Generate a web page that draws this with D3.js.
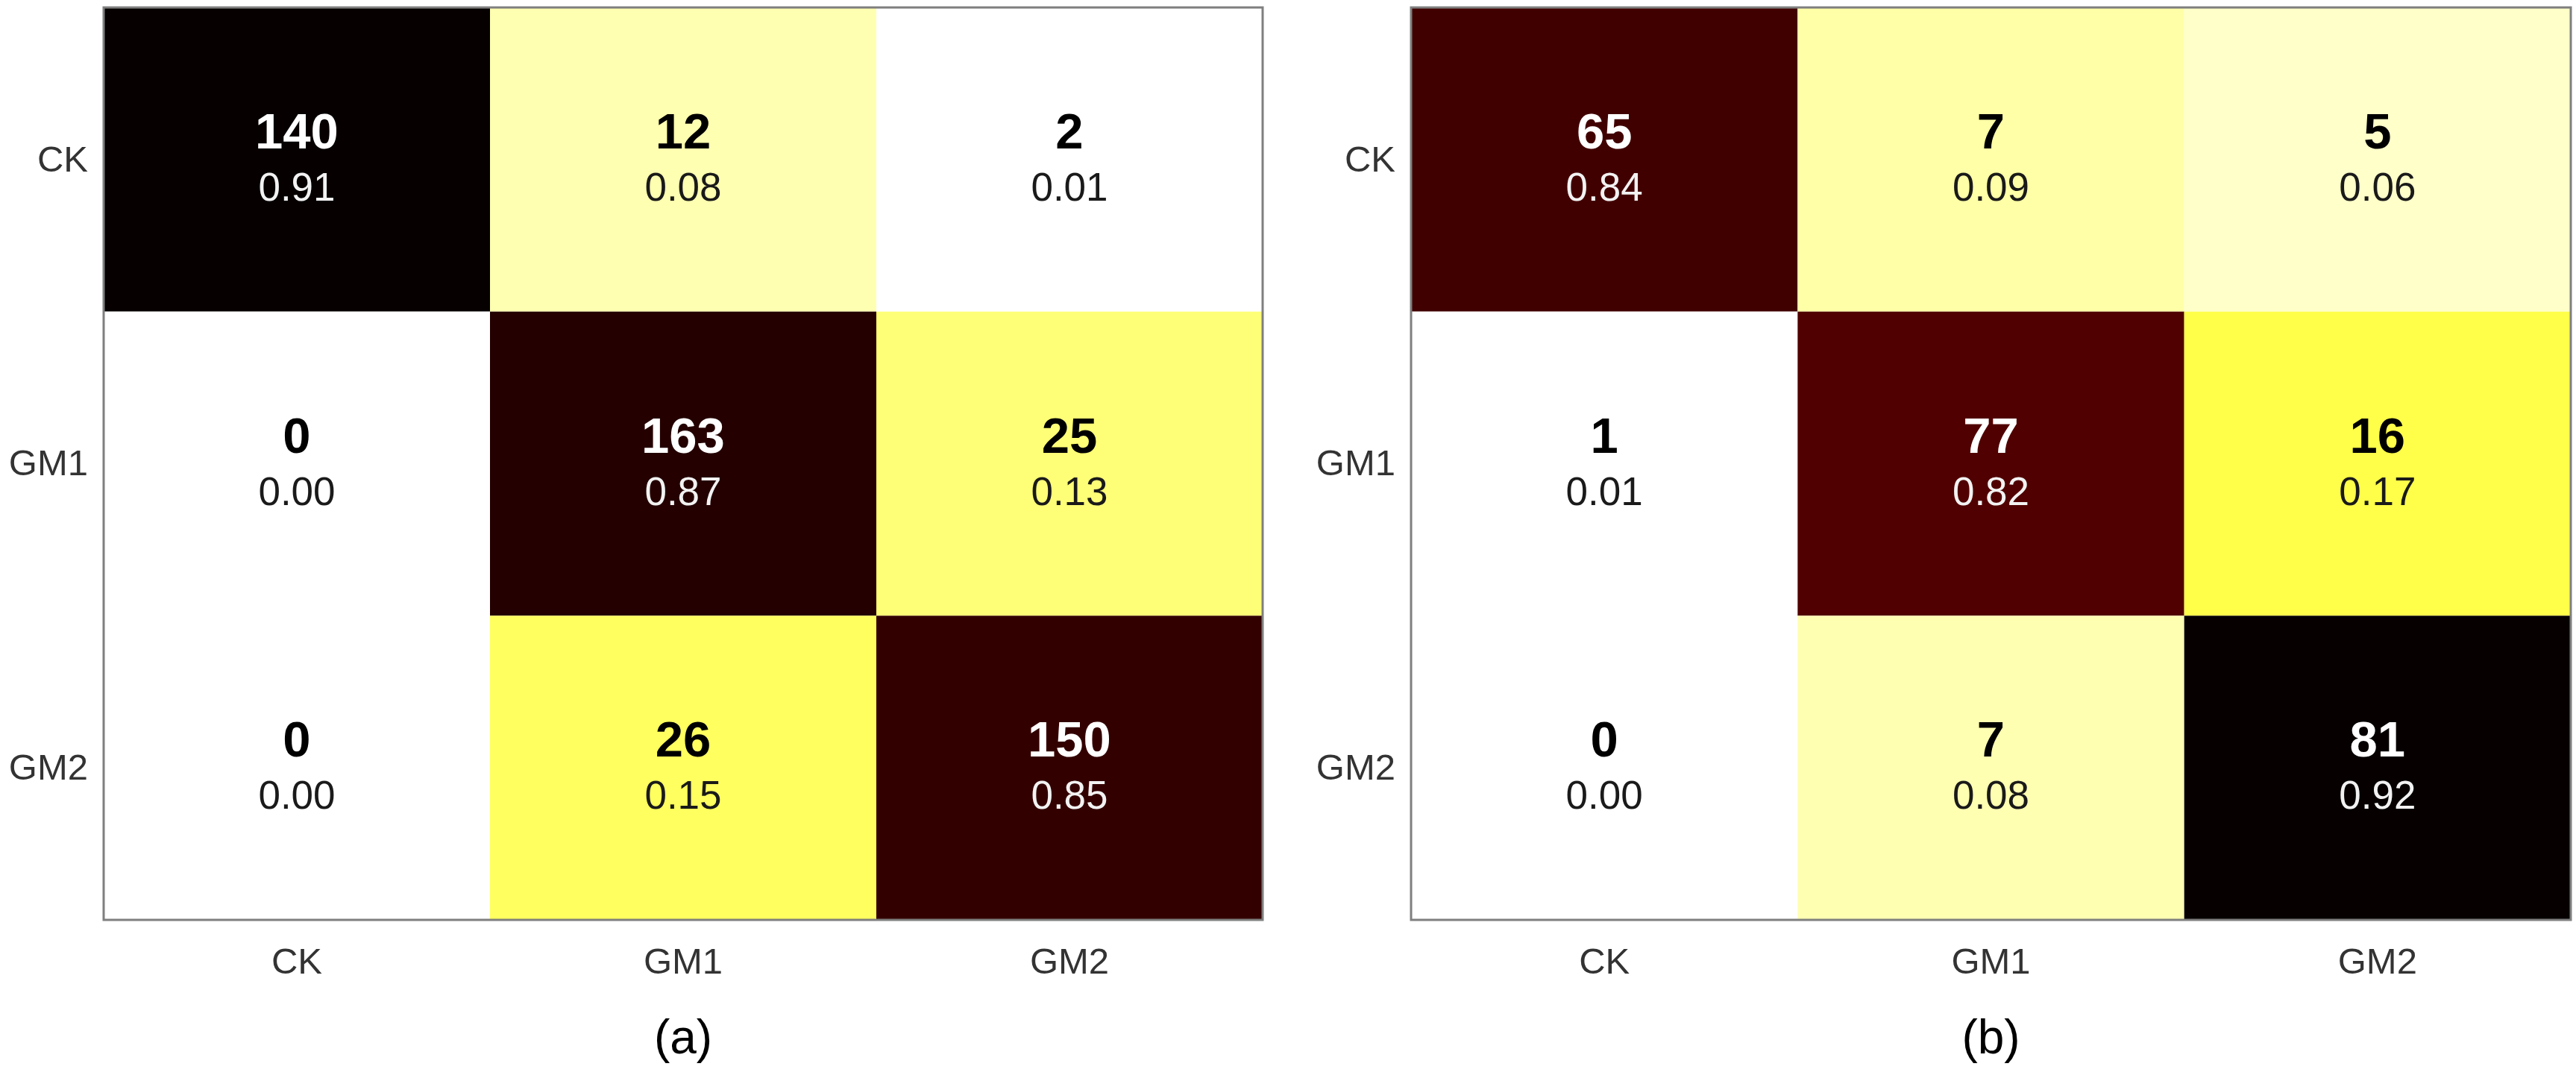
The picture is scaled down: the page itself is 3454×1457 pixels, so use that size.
<!DOCTYPE html>
<html>
<head>
<meta charset="utf-8">
<script src="https://cdn.jsdelivr.net/npm/d3@7"></script>
<style>
  body { margin: 0; background: #fff; }
  svg text { font-family: "Liberation Sans", Arial, sans-serif; }
</style>
</head>
<body>
<div id="chart"></div>
<script>
// class labels (rows = true, cols = predicted)
var classes = ["CK", "GM1", "GM2"];

// panel (a)
var countsA = [[140, 12, 2], [0, 163, 25], [0, 26, 150]];
var ratiosA = [[0.91, 0.08, 0.01], [0.00, 0.87, 0.13], [0.00, 0.15, 0.85]];

// panel (b)
var countsB = [[65, 7, 5], [1, 77, 16], [0, 7, 81]];
var ratiosB = [[0.84, 0.09, 0.06], [0.01, 0.82, 0.17], [0.00, 0.08, 0.92]];

var captions = ["(a)", "(b)"];

var svgWidth = 3454, svgHeight = 1457;

var svg = d3.select("#chart")
    .append("svg")
    .attr("width", svgWidth)
    .attr("height", svgHeight);

var panels = [
    {counts: countsA, ratios: ratiosA, caption: captions[0], x0: 139, x1: 1693},
    {counts: countsB, ratios: ratiosB, caption: captions[1], x0: 1892, x1: 3447}
];
var plotTop = 10, plotBottom = 1233;

panels.forEach(function(p) {
    var xScale = d3.scaleBand().domain(classes).range([p.x0, p.x1]);
    var yScale = d3.scaleBand().domain(classes).range([plotTop, plotBottom]);

    // reversed "hot" colour map, normalised to the panel max
    var maxR = d3.max(p.ratios, function(r) { return d3.max(r); });
    var color = d3.scaleLinear()
        .domain([0.015, 0.254, 0.635, 1].map(function(v) { return v * maxR; }))
        .range(["#ffffff", "#ffff00", "#ff0000", "#060000"])
        .clamp(true);

    var cells = [];
    p.counts.forEach(function(row, i) {
        row.forEach(function(c, j) {
            cells.push({row: classes[i], col: classes[j], count: c, ratio: p.ratios[i][j]});
        });
    });

    var g = svg.append("g");

    g.selectAll("rect.cell")
        .data(cells)
        .enter()
        .append("rect")
        .attr("class", "cell")
        .attr("x", function(d) { return xScale(d.col); })
        .attr("y", function(d) { return yScale(d.row); })
        .attr("width", xScale.bandwidth())
        .attr("height", yScale.bandwidth())
        .attr("fill", function(d) { return color(d.ratio); });

    var dark = function(d) { return d.ratio / maxR > 0.5; };

    g.selectAll("text.count")
        .data(cells)
        .enter()
        .append("text")
        .attr("class", "count")
        .attr("x", function(d) { return xScale(d.col) + xScale.bandwidth() / 2; })
        .attr("y", function(d) { return yScale(d.row) + yScale.bandwidth() / 2 - 15; })
        .attr("text-anchor", "middle")
        .attr("font-size", 67)
        .attr("font-weight", "bold")
        .attr("fill", function(d) { return dark(d) ? "#ffffff" : "#000000"; })
        .text(function(d) { return d.count; });

    g.selectAll("text.ratio")
        .data(cells)
        .enter()
        .append("text")
        .attr("class", "ratio")
        .attr("x", function(d) { return xScale(d.col) + xScale.bandwidth() / 2; })
        .attr("y", function(d) { return yScale(d.row) + yScale.bandwidth() / 2 + 55; })
        .attr("text-anchor", "middle")
        .attr("font-size", 53)
        .attr("fill", function(d) { return dark(d) ? "#f2f2f2" : "#1a1a1a"; })
        .text(function(d) { return d.ratio.toFixed(2); });

    // frame
    g.append("rect")
        .attr("x", p.x0)
        .attr("y", plotTop)
        .attr("width", p.x1 - p.x0)
        .attr("height", plotBottom - plotTop)
        .attr("fill", "none")
        .attr("stroke", "#7f7f7f")
        .attr("stroke-width", 3);

    // axes
    var yAxis = g.append("g")
        .attr("transform", "translate(" + p.x0 + ",0)")
        .call(d3.axisLeft(yScale).tickSize(0).tickPadding(21));
    var xAxis = g.append("g")
        .attr("transform", "translate(0," + plotBottom + ")")
        .call(d3.axisBottom(xScale).tickSize(0).tickPadding(37));

    [xAxis, yAxis].forEach(function(ax) {
        ax.select(".domain").remove();
        ax.selectAll("text")
            .attr("font-size", 49)
            .attr("fill", "#333333")
            .style("font-family", "Liberation Sans, Arial, sans-serif");
    });

    svg.append("text")
        .attr("x", (p.x0 + p.x1) / 2)
        .attr("y", 1412)
        .attr("text-anchor", "middle")
        .attr("font-size", 64)
        .attr("fill", "#000")
        .text(p.caption);
});
</script>
</body>
</html>
